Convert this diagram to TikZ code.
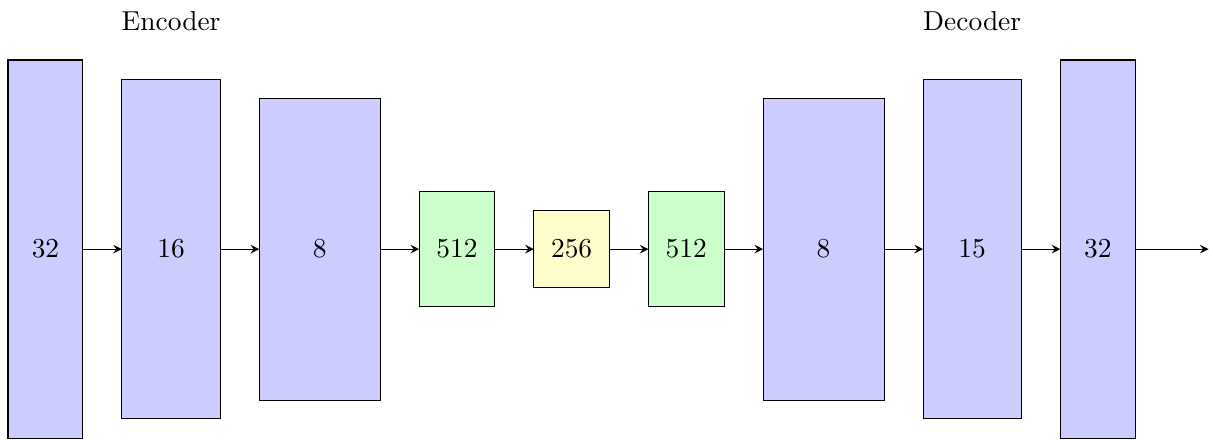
\documentclass[tikz,border=0pt]{standalone}
\usetikzlibrary{arrows,positioning}

\begin{document}
\begin{tikzpicture}[
        node distance=0.5cm,
        conv/.style={draw, fill=blue!20, inner sep=0pt, outer sep=0pt},
        fc/.style={draw, fill=green!20, inner sep=0pt, outer sep=0pt, minimum width=0.97cm, minimum height=1.47cm},
        bottleneck/.style={draw, fill=yellow!20, inner sep=0pt, outer sep=0pt, minimum width=0.97cm, minimum height=0.99cm},
        flow/.style={-stealth}
    ]
        \useasboundingbox (0,0) rectangle (15.55,5.63);
        % encoder
        \node[conv, minimum width=0.96cm, minimum height=4.85cm] (enc1) at (0.583,2.436) {32};
        \node[conv, minimum width=1.26cm, minimum height=4.35cm, right=of enc1] (enc2) {16};
        \node[conv, minimum width=1.55cm, minimum height=3.87cm, right=of enc2] (enc3) {8};
        % fully connected part
        \node[fc, right=of enc3] (fc1) {512};
        \node[bottleneck, right=of fc1] (latent) {256};
        \node[fc, right=of latent] (fc2) {512};
        % decoder
        \node[conv, minimum width=1.55cm, minimum height=3.87cm, right=of fc2] (dec1) {8};
        \node[conv, minimum width=1.26cm, minimum height=4.35cm, right=of dec1] (dec2) {15};
        \node[conv, minimum width=0.96cm, minimum height=4.85cm, right=of dec2] (dec3) {32};
        \coordinate[right=0.94cm of dec3] (out);

        \node[above=0.5cm of enc2] (enclabel) {Encoder};
        \node[above=0.5cm of dec2] (declabel) {Decoder};

        \foreach \a/\b in {enc1/enc2,enc2/enc3,enc3/fc1,fc1/latent,latent/fc2,fc2/dec1,dec1/dec2,dec2/dec3}
            {\draw[flow] (\a) -- (\b);}
        \draw[flow] (dec3) -- (out);
    \end{tikzpicture}
\end{document}
